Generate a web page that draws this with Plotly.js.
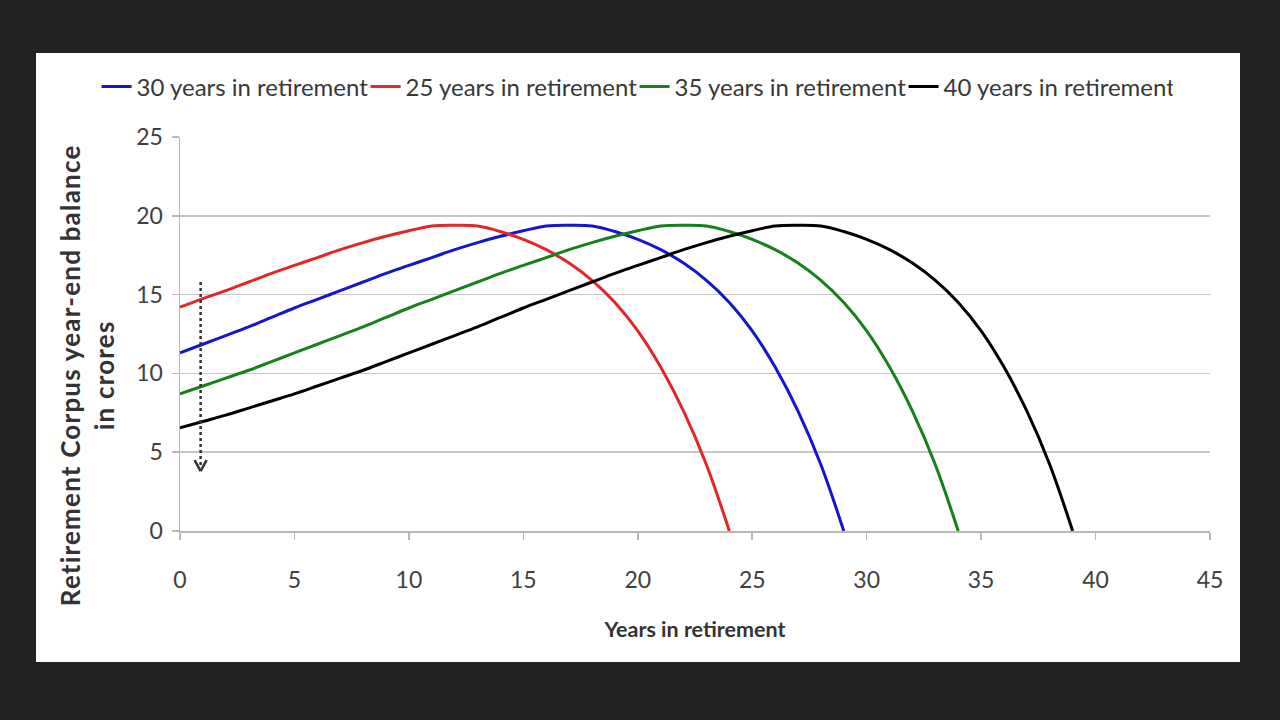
<!DOCTYPE html>
<html>
<head>
<meta charset="utf-8">
<script src="https://cdn.plot.ly/plotly-3.0.1.min.js"></script>
<style>
  html, body { margin: 0; padding: 0; width: 1280px; height: 720px; background: #222222; overflow: hidden; }
  #panel { position: absolute; left: 36px; top: 53px; width: 1204px; height: 609px; background: #ffffff; }
  #panel .annotation-text { letter-spacing: 1.2px; }
</style>
</head>
<body>
<div id="panel"></div>
<script>
// Years in retirement (x values) for each series
const years25 = [0,1,2,3,4,5,6,7,8,9,10,11,12,13,14,15,16,17,18,19,20,21,22,23,24];
const years30 = [0,1,2,3,4,5,6,7,8,9,10,11,12,13,14,15,16,17,18,19,20,21,22,23,24,25,26,27,28,29];
const years35 = [0,1,2,3,4,5,6,7,8,9,10,11,12,13,14,15,16,17,18,19,20,21,22,23,24,25,26,27,28,29,30,31,32,33,34];
const years40 = [0,1,2,3,4,5,6,7,8,9,10,11,12,13,14,15,16,17,18,19,20,21,22,23,24,25,26,27,28,29,30,31,32,33,34,35,36,37,38,39];

// Retirement corpus year-end balance (crores)
const balance30 = [11.3,11.85,12.4,12.95,13.55,14.15,14.7,15.25,15.8,16.35,16.85,17.35,17.85,18.3,18.7,19.05,19.35,19.4,19.35,19.0,18.5,17.85,17.0,15.9,14.5,12.7,10.4,7.6,4.2,0];
const balance25 = [14.2,14.75,15.25,15.8,16.35,16.85,17.35,17.85,18.3,18.7,19.05,19.35,19.4,19.35,19.0,18.5,17.85,17.0,15.9,14.5,12.7,10.4,7.6,4.2,0];
const balance35 = [8.7,9.2,9.7,10.2,10.75,11.3,11.85,12.4,12.95,13.55,14.15,14.7,15.25,15.8,16.35,16.85,17.35,17.85,18.3,18.7,19.05,19.35,19.4,19.35,19.0,18.5,17.85,17.0,15.9,14.5,12.7,10.4,7.6,4.2,0];
const balance40 = [6.55,6.95,7.35,7.8,8.25,8.7,9.2,9.7,10.2,10.75,11.3,11.85,12.4,12.95,13.55,14.15,14.7,15.25,15.8,16.35,16.85,17.35,17.85,18.3,18.7,19.05,19.35,19.4,19.35,19.0,18.5,17.85,17.0,15.9,14.5,12.7,10.4,7.6,4.2,0];

const seriesNames = ["30 years in retirement","25 years in retirement","35 years in retirement","40 years in retirement"];
const xTicks = [0,5,10,15,20,25,30,35,40,45];
const yTicks = [0,5,10,15,20,25];

// dotted arrow (annotation) position in data units
const arrowX = 0.9, arrowTop = 15.8, arrowBottom = 3.8;

const colors = ["#1515d0","#e2262a","#17801c","#000000"];
const xs = [years30, years25, years35, years40];
const ys = [balance30, balance25, balance35, balance40];

const traces = seriesNames.map((n, i) => ({
  type: "scatter", mode: "lines", name: n,
  x: xs[i], y: ys[i],
  line: { color: colors[i], width: 3, shape: "spline", smoothing: 1 },
  hoverinfo: "skip"
}));

const layout = {
  width: 1204, height: 609,
  margin: { l: 144, r: 30, t: 84, b: 131 },
  paper_bgcolor: "#ffffff", plot_bgcolor: "#ffffff",
  font: { family: "Lato, 'Open Sans', sans-serif", color: "#404040", size: 22 },
  showlegend: true,
  legend: {
    orientation: "h", x: -0.081, xanchor: "left", y: 1.127, yanchor: "middle",
    font: { size: 24, color: "#383838" }, entrywidth: 224, entrywidthmode: "pixels",
    itemwidth: 30, tracegroupgap: 0, bgcolor: "rgba(0,0,0,0)"
  },
  xaxis: {
    range: [0, 45], tickvals: xTicks, ticktext: xTicks.map(String),
    showgrid: false, zeroline: false, showline: true, linecolor: "#b8b8b8", linewidth: 1.5,
    ticks: "outside", ticklen: 7, tickcolor: "#b8b8b8", tickwidth: 1.5,
    ticklabelstandoff: 21,
    tickfont: { size: 23, color: "#404040" },
    title: { text: "<b>Years in retirement</b>", font: { size: 21.5, color: "#333333" }, standoff: 30 },
    fixedrange: true
  },
  yaxis: {
    range: [0, 25], tickvals: yTicks, ticktext: yTicks.map(String),
    showgrid: true, gridcolor: "#c6c6c6", gridwidth: 1.5,
    zeroline: false, showline: true, linecolor: "#b8b8b8", linewidth: 1.5,
    ticks: "outside", ticklen: 7, tickcolor: "#b8b8b8", tickwidth: 1.5,
    ticklabelstandoff: 4,
    tickfont: { size: 23, color: "#404040" },
    fixedrange: true
  },
  shapes: [
    { type: "line", xref: "x", yref: "y", x0: arrowX, x1: arrowX, y0: arrowTop, y1: arrowBottom + 0.25,
      line: { color: "#333333", width: 2.5, dash: "dot" } },
    { type: "line", xref: "x", yref: "y", xsizemode: "pixel", ysizemode: "pixel",
      xanchor: arrowX, yanchor: arrowBottom, x0: -6, x1: 0, y0: 11, y1: 0,
      line: { color: "#333333", width: 2.5 } },
    { type: "line", xref: "x", yref: "y", xsizemode: "pixel", ysizemode: "pixel",
      xanchor: arrowX, yanchor: arrowBottom, x0: 6, x1: 0, y0: 11, y1: 0,
      line: { color: "#333333", width: 2.5 } }
  ],
  annotations: [
    { xref: "paper", yref: "paper", x: (51 - 144) / 1030, y: (531 - 376) / 394,
      xanchor: "center", yanchor: "middle",
      textangle: -90, showarrow: false, align: "center",
      text: "<b>Retirement Corpus year-end balance<br>in crores</b>",
      font: { size: 26, color: "#333333" } }
  ]
};

Plotly.newPlot("panel", traces, layout, { displayModeBar: false, staticPlot: true });
</script>
</body>
</html>
